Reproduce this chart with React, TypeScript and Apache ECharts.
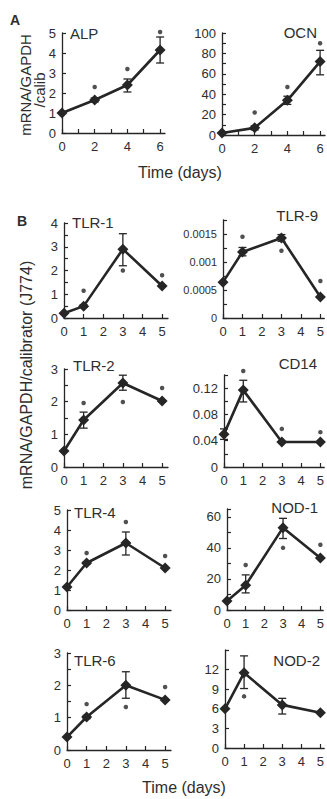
import React, { useEffect, useRef } from "react";
import * as echarts from "echarts";

// ---------- data ----------
const daysA = [0, 2, 4, 6];
const daysB = [0, 1, 3, 5];

const xTicksA = [0, 1, 2, 3, 4, 5, 6];
const xLabelsA = [0, 2, 4, 6];
const xTicksB = [0, 1, 2, 3, 4, 5];
const xLabelsB = [0, 1, 2, 3, 4, 5];

const alpMean = [1.0, 1.65, 2.4, 4.15];
const alpLow = [1.0, 1.55, 2.05, 3.5];
const alpHigh = [1.0, 1.75, 2.7, 4.8];
const alpStars = [[2, 2.3], [4, 3.2], [6, 5.05]];
const alpYTicks = [0, 1, 2, 3, 4, 5];
const alpYLabels = [0, 1, 2, 3, 4, 5];

const ocnMean = [2, 7, 34, 72];
const ocnLow = [2, 5, 30, 59];
const ocnHigh = [2, 9, 38, 83];
const ocnStars = [[2, 22], [4, 47], [6, 90]];
const ocnYTicks = [0, 10, 20, 30, 40, 50, 60, 70, 80, 90, 100];
const ocnYLabels = [0, 20, 40, 60, 80, 100];

const tlr1Mean = [0.2, 0.5, 2.9, 1.35];
const tlr1Low = [0.2, 0.45, 2.2, 1.35];
const tlr1High = [0.2, 0.55, 3.55, 1.35];
const tlr1Stars = [[1, 1.15], [3, 2.0], [5, 1.8]];
const tlr1YTicks = [0, 0.5, 1, 1.5, 2, 2.5, 3, 3.5, 4];
const tlr1YLabels = [0, 1, 2, 3, 4];

const tlr9Mean = [0.00064, 0.00118, 0.00143, 0.000375];
const tlr9Low = [0.00064, 0.00111, 0.00137, 0.000375];
const tlr9High = [0.00064, 0.00126, 0.00149, 0.000375];
const tlr9Stars = [[1, 0.00145], [3, 0.0012], [5, 0.00066]];
const tlr9YTicks = [0, 0.00025, 0.0005, 0.00075, 0.001, 0.00125, 0.0015, 0.00175];
const tlr9YLabels = [0, 0.0005, 0.001, 0.0015];

const tlr2Mean = [0.49, 1.44, 2.57, 2.02];
const tlr2Low = [0.49, 1.19, 2.35, 2.02];
const tlr2High = [0.49, 1.68, 2.81, 2.02];
const tlr2Stars = [[1, 1.96], [3, 1.99], [5, 2.42]];
const tlr2YTicks = [0, 0.5, 1, 1.5, 2, 2.5, 3];
const tlr2YLabels = [0, 1, 2, 3];

const cd14Mean = [0.05, 0.117, 0.038, 0.038];
const cd14Low = [0.042, 0.099, 0.038, 0.038];
const cd14High = [0.058, 0.132, 0.038, 0.038];
const cd14Stars = [[1, 0.146], [3, 0.058], [5, 0.053]];
const cd14YTicks = [0, 0.02, 0.04, 0.06, 0.08, 0.1, 0.12, 0.14];
const cd14YLabels = [0, 0.04, 0.08, 0.12];

const tlr4Mean = [1.15, 2.35, 3.35, 2.1];
const tlr4Low = [1.15, 2.3, 2.75, 2.1];
const tlr4High = [1.15, 2.4, 3.9, 2.1];
const tlr4Stars = [[1, 2.85], [3, 4.4], [5, 2.7]];
const tlr4YTicks = [0, 1, 2, 3, 4, 5];
const tlr4YLabels = [0, 1, 2, 3, 4, 5];

const nod1Mean = [5.8, 16, 53, 33.5];
const nod1Low = [5.8, 11, 46, 33.5];
const nod1High = [5.8, 22.6, 59, 33.5];
const nod1Stars = [[1, 29], [3, 40], [5, 42]];
const nod1YTicks = [0, 10, 20, 30, 40, 50, 60, 65];
const nod1YLabels = [0, 20, 40, 60];

const tlr6Mean = [0.4, 1.02, 2.0, 1.55];
const tlr6Low = [0.4, 0.97, 1.6, 1.55];
const tlr6High = [0.4, 1.07, 2.42, 1.55];
const tlr6Stars = [[1, 1.42], [3, 1.33], [5, 1.95]];
const tlr6YTicks = [0, 0.5, 1, 1.5, 2, 2.5, 3];
const tlr6YLabels = [0, 1, 2, 3];

const nod2Mean = [6.0, 11.5, 6.6, 5.4];
const nod2Low = [6.0, 9.1, 5.2, 5.4];
const nod2High = [6.0, 14.1, 7.6, 5.4];
const nod2Stars = [[1, 7.9]];
const nod2YTicks = [0, 3, 6, 9, 12, 15];
const nod2YLabels = [0, 3, 6, 9, 12];

// ---------- layout ----------
const FONT = "'Liberation Sans', Arial, Helvetica, sans-serif";
const INK = "#262626";
const TEXT = "#2e2e2e";

type Panel = {
  title: string;
  side: "left" | "right";
  tx: number;
  ty: number;
  days: number[];
  mean: number[];
  low: number[];
  high: number[];
  stars: number[][];
  yMax: number;
  yTicks: number[];
  yLabels: number[];
  yFont: number;
  xMax: number;
  xTicks: number[];
  xLabels: number[];
  box: { left: number; top: number; width: number; height: number };
};

const panels: Panel[] = [
  { title: "ALP", side: "left", tx: 70, ty: 33, days: daysA, mean: alpMean, low: alpLow, high: alpHigh, stars: alpStars, yMax: 5, yTicks: alpYTicks, yLabels: alpYLabels, yFont: 13, xMax: 6.3, xTicks: xTicksA, xLabels: xLabelsA, box: { left: 62, top: 33, width: 103, height: 100 } },
  { title: "OCN", side: "right", tx: 317, ty: 32, days: daysA, mean: ocnMean, low: ocnLow, high: ocnHigh, stars: ocnStars, yMax: 100, yTicks: ocnYTicks, yLabels: ocnYLabels, yFont: 13, xMax: 6.3, xTicks: xTicksA, xLabels: xLabelsA, box: { left: 222, top: 33, width: 103, height: 102 } },
  { title: "TLR-1", side: "left", tx: 72, ty: 222, days: daysB, mean: tlr1Mean, low: tlr1Low, high: tlr1High, stars: tlr1Stars, yMax: 4, yTicks: tlr1YTicks, yLabels: tlr1YLabels, yFont: 13, xMax: 5.3, xTicks: xTicksB, xLabels: xLabelsB, box: { left: 64, top: 223, width: 104, height: 95 } },
  { title: "TLR-9", side: "right", tx: 318, ty: 215, days: daysB, mean: tlr9Mean, low: tlr9Low, high: tlr9High, stars: tlr9Stars, yMax: 0.00175, yTicks: tlr9YTicks, yLabels: tlr9YLabels, yFont: 11, xMax: 5.2, xTicks: xTicksB, xLabels: xLabelsB, box: { left: 223, top: 220, width: 104, height: 98 } },
  { title: "TLR-2", side: "left", tx: 73, ty: 365, days: daysB, mean: tlr2Mean, low: tlr2Low, high: tlr2High, stars: tlr2Stars, yMax: 3, yTicks: tlr2YTicks, yLabels: tlr2YLabels, yFont: 13, xMax: 5.3, xTicks: xTicksB, xLabels: xLabelsB, box: { left: 64, top: 369, width: 104, height: 98 } },
  { title: "CD14", side: "right", tx: 317, ty: 363, days: daysB, mean: cd14Mean, low: cd14Low, high: cd14High, stars: cd14Stars, yMax: 0.14, yTicks: cd14YTicks, yLabels: cd14YLabels, yFont: 13, xMax: 5.2, xTicks: xTicksB, xLabels: xLabelsB, box: { left: 224, top: 375, width: 103, height: 92 } },
  { title: "TLR-4", side: "left", tx: 74, ty: 512, days: daysB, mean: tlr4Mean, low: tlr4Low, high: tlr4High, stars: tlr4Stars, yMax: 5, yTicks: tlr4YTicks, yLabels: tlr4YLabels, yFont: 13, xMax: 5.3, xTicks: xTicksB, xLabels: xLabelsB, box: { left: 67, top: 510, width: 104, height: 100 } },
  { title: "NOD-1", side: "right", tx: 318, ty: 507, days: daysB, mean: nod1Mean, low: nod1Low, high: nod1High, stars: nod1Stars, yMax: 65, yTicks: nod1YTicks, yLabels: nod1YLabels, yFont: 13, xMax: 5.15, xTicks: xTicksB, xLabels: xLabelsB, box: { left: 227, top: 509, width: 100, height: 101 } },
  { title: "TLR-6", side: "left", tx: 74, ty: 660, days: daysB, mean: tlr6Mean, low: tlr6Low, high: tlr6High, stars: tlr6Stars, yMax: 3, yTicks: tlr6YTicks, yLabels: tlr6YLabels, yFont: 13, xMax: 5.3, xTicks: xTicksB, xLabels: xLabelsB, box: { left: 67, top: 653, width: 104, height: 97 } },
  { title: "NOD-2", side: "right", tx: 320, ty: 660, days: daysB, mean: nod2Mean, low: nod2Low, high: nod2High, stars: nod2Stars, yMax: 15, yTicks: nod2YTicks, yLabels: nod2YLabels, yFont: 13, xMax: 5.2, xTicks: xTicksB, xLabels: xLabelsB, box: { left: 225, top: 650, width: 102, height: 98 } },
];

function buildOption() {
  const grid = panels.map((p) => ({ ...p.box, containLabel: false }));
  const xAxis = panels.map((p, i) => ({
    type: "value",
    gridIndex: i,
    min: 0,
    max: p.xMax,
    axisLine: { show: true, onZero: false, lineStyle: { color: INK, width: 1.3 } },
    axisTick: { show: true, inside: true, length: 4, customValues: p.xTicks, lineStyle: { color: INK, width: 1.2 } },
    axisLabel: { show: true, customValues: p.xLabels, fontSize: 13, color: TEXT, margin: 7, fontFamily: FONT, formatter: (v: number) => String(v) },
    splitLine: { show: false },
  }));
  const yAxis = panels.map((p, i) => ({
    type: "value",
    gridIndex: i,
    min: 0,
    max: p.yMax,
    axisLine: { show: true, onZero: false, lineStyle: { color: INK, width: 1.3 } },
    axisTick: { show: true, inside: true, length: 4, customValues: p.yTicks, lineStyle: { color: INK, width: 1.2 } },
    axisLabel: { show: true, customValues: p.yLabels, fontSize: p.yFont, color: TEXT, margin: 6, fontFamily: FONT, formatter: (v: number) => String(v) },
    splitLine: { show: false },
  }));
  const series: any[] = [];
  panels.forEach((p, i) => {
    series.push({
      type: "custom",
      xAxisIndex: i,
      yAxisIndex: i,
      data: p.days.map((d, j) => [d, p.low[j], p.high[j]]),
      encode: { x: 0, y: [1, 2] },
      z: 3,
      renderItem: (params: any, api: any) => {
        const x = api.value(0);
        const lo = api.coord([x, api.value(1)]);
        const hi = api.coord([x, api.value(2)]);
        if (Math.abs(lo[1] - hi[1]) < 1) return { type: "group", children: [] };
        const w = 4;
        const st = { stroke: INK, lineWidth: 1.3 };
        return {
          type: "group",
          children: [
            { type: "line", shape: { x1: lo[0], y1: lo[1], x2: hi[0], y2: hi[1] }, style: st },
            { type: "line", shape: { x1: lo[0] - w, y1: lo[1], x2: lo[0] + w, y2: lo[1] }, style: st },
            { type: "line", shape: { x1: hi[0] - w, y1: hi[1], x2: hi[0] + w, y2: hi[1] }, style: st },
          ],
        };
      },
    });
    series.push({
      type: "line",
      xAxisIndex: i,
      yAxisIndex: i,
      data: p.days.map((d, j) => [d, p.mean[j]]),
      symbol: "diamond",
      symbolSize: 11,
      showSymbol: true,
      lineStyle: { color: INK, width: 2.6 },
      itemStyle: { color: INK },
      z: 4,
    });
    series.push({
      type: "scatter",
      xAxisIndex: i,
      yAxisIndex: i,
      data: p.stars,
      symbol: "circle",
      symbolSize: 4.5,
      itemStyle: { color: INK },
      clip: false,
      z: 5,
    });
  });

  const textStyle = (extra: any) => ({ fill: TEXT, fontFamily: FONT, ...extra });
  const graphic: any[] = [];
  panels.forEach((p) => {
    graphic.push({
      type: "text",
      x: p.tx,
      y: p.ty,
      style: textStyle({ text: p.title, fontSize: 15, textAlign: p.side === "left" ? "left" : "right", textVerticalAlign: "middle" }),
    });
  });
  graphic.push({ type: "text", x: 15, y: 20, style: textStyle({ text: "A", fontSize: 14, fontWeight: "bold", textAlign: "center", textVerticalAlign: "middle" }) });
  graphic.push({ type: "text", x: 22, y: 221, style: textStyle({ text: "B", fontSize: 14, fontWeight: "bold", textAlign: "center", textVerticalAlign: "middle" }) });
  graphic.push({ type: "text", x: 25, y: 85, rotation: Math.PI / 2, style: textStyle({ text: "mRNA/GAPDH", fontSize: 15, textAlign: "center", textVerticalAlign: "middle" }) });
  graphic.push({ type: "text", x: 39, y: 90, rotation: Math.PI / 2, style: textStyle({ text: "/calib", fontSize: 15, textAlign: "center", textVerticalAlign: "middle" }) });
  graphic.push({ type: "text", x: 26, y: 375, rotation: Math.PI / 2, style: textStyle({ text: "mRNA/GAPDH/calibrator (J774)", fontSize: 16, textAlign: "center", textVerticalAlign: "middle" }) });
  graphic.push({ type: "text", x: 180, y: 172, style: textStyle({ text: "Time (days)", fontSize: 16, textAlign: "center", textVerticalAlign: "middle" }) });
  graphic.push({ type: "text", x: 184, y: 787, style: textStyle({ text: "Time (days)", fontSize: 16, textAlign: "center", textVerticalAlign: "middle" }) });

  return { animation: false, backgroundColor: "#fff", grid, xAxis, yAxis, series, graphic };
}

export default function App() {
  const ref = useRef<HTMLDivElement>(null);
  useEffect(() => {
    if (!ref.current) return;
    const chart = echarts.init(ref.current, null, { renderer: "svg" });
    chart.setOption(buildOption() as any);
    return () => chart.dispose();
  }, []);
  return <div ref={ref} style={{ position: "absolute", left: 0, top: 0, width: 327, height: 799 }} />;
}
